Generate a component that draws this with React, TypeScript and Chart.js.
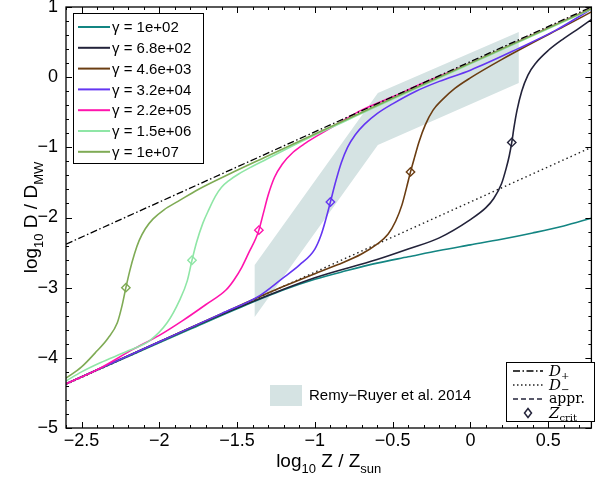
import React, { useEffect, useRef } from "react";
import { Chart, registerables } from "chart.js";
Chart.register(...registerables);

// ---- axes ----
const xMin = -2.6;
const xMax = 0.778;
const yMin = -5;
const yMax = 1;
const xTicks = [-2.5, -2, -1.5, -1, -0.5, 0, 0.5];
const yTicks = [-5, -4, -3, -2, -1, 0, 1];

// ---- series ----
const gammaLabels = ["γ = 1e+02", "γ = 6.8e+02", "γ = 4.6e+03", "γ = 3.2e+04", "γ = 2.2e+05", "γ = 1.5e+06", "γ = 1e+07"];
const colors = ["#138582", "#23233a", "#6b3d12", "#6436f2", "#ff14ad", "#8fe6a6", "#7fab55"];

const xG1 = [-2.6, -2.2, -1.8, -1.5, -1.2, -1.0, -0.8, -0.6, -0.4, -0.2, 0.0, 0.2, 0.4, 0.6, 0.778];
const yG1 = [-4.37, -3.98, -3.59, -3.30, -3.03, -2.88, -2.76, -2.65, -2.56, -2.47, -2.39, -2.31, -2.22, -2.12, -2.01];

const xG2 = [-2.6, -2.0, -1.5, -1.0, -0.6, -0.4, -0.2, 0.0, 0.1, 0.15, 0.2, 0.23, 0.25, 0.266, 0.28, 0.3, 0.33, 0.37, 0.42, 0.5, 0.6, 0.7, 0.778];
const yG2 = [-4.37, -3.77, -3.29, -2.86, -2.6, -2.45, -2.29, -2.03, -1.86, -1.73, -1.52, -1.3, -1.12, -0.93, -0.72, -0.47, -0.2, 0.03, 0.2, 0.38, 0.55, 0.7, 0.82];

const xG3 = [-2.6, -2.0, -1.5, -1.2, -1.0, -0.85, -0.7, -0.6, -0.53, -0.48, -0.44, -0.41, -0.385, -0.36, -0.33, -0.29, -0.24, -0.18, -0.1, 0.0, 0.2, 0.4, 0.6, 0.778];
const yG3 = [-4.37, -3.77, -3.27, -2.98, -2.8, -2.67, -2.52, -2.38, -2.24, -2.05, -1.82, -1.57, -1.35, -1.15, -0.92, -0.68, -0.47, -0.32, -0.16, -0.01, 0.25, 0.49, 0.72, 0.93];

const xG4 = [-2.6, -2.0, -1.6, -1.36, -1.21, -1.1, -1.0, -0.96, -0.93, -0.9, -0.87, -0.83, -0.79, -0.74, -0.68, -0.6, -0.5, -0.35, -0.2, 0.0, 0.3, 0.55, 0.778];
const yG4 = [-4.37, -3.77, -3.37, -3.12, -2.87, -2.68, -2.45, -2.25, -2.03, -1.78, -1.52, -1.22, -1.0, -0.82, -0.67, -0.52, -0.38, -0.2, -0.06, 0.1, 0.4, 0.67, 0.97];

const xG5 = [-2.6, -2.4, -2.17, -2.0, -1.85, -1.7, -1.57, -1.52, -1.47, -1.42, -1.38, -1.36, -1.33, -1.3, -1.26, -1.21, -1.14, -1.06, -0.95, -0.85, -0.7, -0.5, -0.3, 0.0, 0.4, 0.778];
const yG5 = [-4.37, -4.17, -3.88, -3.68, -3.47, -3.24, -3.03, -2.89, -2.71, -2.48, -2.3, -2.18, -1.93, -1.68, -1.43, -1.24, -1.07, -0.94, -0.79, -0.66, -0.47, -0.28, -0.08, 0.2, 0.6, 0.98];

const xG6 = [-2.6, -2.5, -2.38, -2.2, -2.06, -1.95, -1.87, -1.82, -1.79, -1.76, -1.72, -1.68, -1.64, -1.6, -1.55, -1.49, -1.4, -1.32, -1.1, -0.8, -0.4, 0.0, 0.4, 0.778];
const yG6 = [-4.33, -4.2, -4.07, -3.9, -3.75, -3.5, -3.18, -2.9, -2.61, -2.35, -2.08, -1.88, -1.7, -1.57, -1.47, -1.38, -1.27, -1.18, -0.93, -0.62, -0.21, 0.19, 0.59, 0.97];

const xG7 = [-2.6, -2.5, -2.4, -2.33, -2.27, -2.24, -2.215, -2.19, -2.16, -2.13, -2.09, -2.04, -1.97, -1.88, -1.75, -1.55, -1.3, -1.0, -0.5, 0.0, 0.4, 0.778];
const yG7 = [-4.29, -4.13, -3.9, -3.72, -3.5, -3.26, -3.0, -2.76, -2.52, -2.33, -2.16, -2.02, -1.89, -1.77, -1.6, -1.38, -1.12, -0.81, -0.3, 0.2, 0.6, 0.98];

const seriesX = [xG1, xG2, xG3, xG4, xG5, xG6, xG7];
const seriesY = [yG1, yG2, yG3, yG4, yG5, yG6, yG7];

// critical metallicities (γ = 6.8e+02 ... 1e+07)
const critX = [0.266, -0.385, -0.9, -1.36, -1.79, -2.215];
const critY = [-0.93, -1.35, -1.78, -2.18, -2.61, -3.0];

// limiting lines
const dLineX = [-2.6, 0.778];
const dPlusY = [-2.38, 1.0];
const dMinusY = [-4.38, -1.0];

// Remy-Ruyer et al. 2014 band (closed polygon)
const remyX = [-1.387, -0.595, 0.311, 0.311, -0.595, -1.387, -1.387];
const remyY = [-2.677, -0.226, 0.644, -0.083, -0.967, -3.418, -2.677];

const SANS = "'Liberation Sans', Arial, Helvetica, sans-serif";
const SERIF = "'DejaVu Serif', serif";

const zip = (xs: number[], ys: number[]) => xs.map((x, i) => ({ x, y: ys[i] }));
const fmt = (v: number) => String(v).replace("-", "\u2212");

type Part = { t: string; font: string; dy?: number };
function drawRich(ctx: CanvasRenderingContext2D, parts: Part[], x: number, y: number, align: "left" | "center") {
  const widths = parts.map((p) => {
    ctx.font = p.font;
    return ctx.measureText(p.t).width;
  });
  const total = widths.reduce((a, b) => a + b, 0);
  let cx = align === "center" ? x - total / 2 : x;
  ctx.textAlign = "left";
  parts.forEach((p, i) => {
    ctx.font = p.font;
    ctx.fillText(p.t, cx, y + (p.dy || 0));
    cx += widths[i];
  });
}

const framePlugin = {
  id: "frame",
  afterDatasetsDraw(chart: any) {
    const { ctx, chartArea: a, scales } = chart;
    const xs = scales.x;
    const ys = scales.y;
    ctx.save();
    ctx.strokeStyle = "#000";
    ctx.lineWidth = 1;
    ctx.setLineDash([]);
    ctx.beginPath();
    for (let i = -26; i <= 7; i++) {
      const px = Math.round(xs.getPixelForValue(i / 10)) + 0.5;
      const L = i % 5 === 0 ? 6 : 3;
      ctx.moveTo(px, a.bottom);
      ctx.lineTo(px, a.bottom - L);
      ctx.moveTo(px, a.top);
      ctx.lineTo(px, a.top + L);
    }
    for (let i = -25; i <= 5; i++) {
      const py = Math.round(ys.getPixelForValue(i / 5)) + 0.5;
      const L = i % 5 === 0 ? 6 : 3;
      ctx.moveTo(a.left, py);
      ctx.lineTo(a.left + L, py);
      ctx.moveTo(a.right, py);
      ctx.lineTo(a.right - L, py);
    }
    ctx.stroke();
    ctx.lineWidth = 1.3;
    ctx.strokeRect(a.left, a.top, a.right - a.left, a.bottom - a.top);
    ctx.restore();
  },
  afterDraw(chart: any) {
    const { ctx, chartArea: a } = chart;
    ctx.save();
    ctx.fillStyle = "#000";
    ctx.textBaseline = "alphabetic";
    // x title
    drawRich(
      ctx,
      [
        { t: "log", font: `19px ${SANS}` },
        { t: "10", font: `13px ${SANS}`, dy: 6 },
        { t: " Z / Z", font: `19px ${SANS}` },
        { t: "sun", font: `13px ${SANS}`, dy: 6 },
      ],
      (a.left + a.right) / 2,
      467,
      "center"
    );
    // y title
    ctx.save();
    ctx.translate(37, (a.top + a.bottom) / 2);
    ctx.rotate(-Math.PI / 2);
    drawRich(
      ctx,
      [
        { t: "log", font: `19px ${SANS}` },
        { t: "10", font: `13px ${SANS}`, dy: 6 },
        { t: " D / D", font: `19px ${SANS}` },
        { t: "MW", font: `13px ${SANS}`, dy: 6 },
      ],
      0,
      0,
      "center"
    );
    ctx.restore();

    // gamma legend
    ctx.fillStyle = "#fff";
    ctx.fillRect(73.5, 13.5, 130, 150);
    ctx.strokeStyle = "#000";
    ctx.lineWidth = 1;
    ctx.strokeRect(73.5, 13.5, 130, 150);
    ctx.textBaseline = "middle";
    ctx.font = `15px ${SANS}`;
    gammaLabels.forEach((lab, i) => {
      const y = 27 + i * 20.8;
      ctx.strokeStyle = colors[i];
      ctx.lineWidth = 2;
      ctx.beginPath();
      ctx.moveTo(78, y);
      ctx.lineTo(110, y);
      ctx.stroke();
      ctx.fillStyle = "#000";
      ctx.textAlign = "left";
      ctx.fillText(lab, 112, y + 1);
    });

    // Remy-Ruyer legend
    ctx.fillStyle = "#d5e3e3";
    ctx.fillRect(270, 385, 32, 21);
    ctx.fillStyle = "#000";
    ctx.font = `15px ${SANS}`;
    ctx.textAlign = "left";
    ctx.fillText("Remy\u2212Ruyer et al. 2014", 309, 396);

    // line-style legend
    ctx.fillStyle = "#fff";
    ctx.fillRect(506.5, 362.5, 88, 59);
    ctx.strokeStyle = "#000";
    ctx.lineWidth = 1;
    ctx.strokeRect(506.5, 362.5, 88, 59);
    const rows = [371, 385, 399, 413];
    const seg = (y: number, dash: number[], color: string, w: number) => {
      ctx.save();
      ctx.strokeStyle = color;
      ctx.lineWidth = w;
      ctx.setLineDash(dash);
      ctx.beginPath();
      ctx.moveTo(513, y);
      ctx.lineTo(543, y);
      ctx.stroke();
      ctx.restore();
    };
    seg(rows[0], [7, 2.5, 1.5, 2.5], "#000", 1.3);
    seg(rows[1], [1.5, 2.5], "#222", 1.4);
    seg(rows[2], [5, 3], "#23233a", 1.6);
    // diamond
    ctx.save();
    ctx.strokeStyle = "#23233a";
    ctx.lineWidth = 1.5;
    ctx.beginPath();
    ctx.moveTo(528, rows[3] - 4.5);
    ctx.lineTo(531.5, rows[3]);
    ctx.lineTo(528, rows[3] + 4.5);
    ctx.lineTo(524.5, rows[3]);
    ctx.closePath();
    ctx.stroke();
    ctx.restore();
    ctx.fillStyle = "#000";
    ctx.textBaseline = "alphabetic";
    drawRich(ctx, [{ t: "D", font: `italic 15px ${SERIF}` }, { t: "+", font: `10px ${SERIF}`, dy: 3 }], 549, rows[0] + 5, "left");
    drawRich(ctx, [{ t: "D", font: `italic 15px ${SERIF}` }, { t: "\u2212", font: `10px ${SERIF}`, dy: 3 }], 549, rows[1] + 5, "left");
    drawRich(ctx, [{ t: "appr.", font: `14px ${SERIF}` }], 549, rows[2] + 4, "left");
    drawRich(ctx, [{ t: "Z", font: `italic 15px ${SERIF}` }, { t: "crit", font: `10px ${SERIF}`, dy: 3 }], 549, rows[3] + 5, "left");
    ctx.restore();
  },
};

export default function App() {
  const ref = useRef<HTMLCanvasElement | null>(null);
  useEffect(() => {
    if (!ref.current) return;
    const curveSets = seriesX.map((xs, i) => ({
      label: gammaLabels[i],
      data: zip(xs, seriesY[i]),
      borderColor: colors[i],
      borderWidth: 1.6,
      pointRadius: 0,
      fill: false,
      cubicInterpolationMode: "monotone" as const,
      order: 10 + (6 - i),
    }));
    const chart = new Chart(ref.current, {
      type: "line",
      data: {
        datasets: [
          {
            label: "Z_crit",
            data: zip(critX, critY),
            showLine: false,
            pointStyle: "rectRot",
            pointRadius: 4.2,
            pointBorderWidth: 1.4,
            pointBorderColor: colors.slice(1),
            pointBackgroundColor: "rgba(0,0,0,0)",
            order: 0,
          },
          {
            label: "D+",
            data: zip(dLineX, dPlusY),
            borderColor: "#000",
            borderWidth: 1.3,
            borderDash: [7, 2.5, 1.5, 2.5],
            pointRadius: 0,
            fill: false,
            order: 1,
          },
          ...curveSets,
          {
            label: "D-",
            data: zip(dLineX, dMinusY),
            borderColor: "#222",
            borderWidth: 1.4,
            borderDash: [1.5, 3],
            pointRadius: 0,
            fill: false,
            order: 50,
          },
          {
            label: "Remy-Ruyer et al. 2014",
            data: zip(remyX, remyY),
            borderWidth: 0,
            borderColor: "rgba(0,0,0,0)",
            backgroundColor: "#d5e3e3",
            pointRadius: 0,
            fill: "shape",
            tension: 0,
            order: 100,
          },
        ] as any,
      },
      options: {
        responsive: false,
        animation: false,
        devicePixelRatio: 1,
        layout: { padding: { top: 7, right: 2, left: 0, bottom: 0 } },
        plugins: { legend: { display: false }, tooltip: { enabled: false } },
        scales: {
          x: {
            type: "linear",
            min: xMin,
            max: xMax,
            grid: { display: false, drawTicks: false },
            border: { display: false },
            afterBuildTicks: (s: any) => {
              s.ticks = xTicks.map((v) => ({ value: v }));
            },
            afterFit: (s: any) => {
              s.height = 50;
              s.paddingLeft = 0;
              s.paddingRight = 0;
            },
            ticks: {
              color: "#000",
              font: { family: SANS, size: 18 },
              padding: 2,
              maxRotation: 0,
              autoSkip: false,
              callback: (v: any) => fmt(Number(v)),
            },
          },
          y: {
            type: "linear",
            min: yMin,
            max: yMax,
            grid: { display: false, drawTicks: false },
            border: { display: false },
            afterBuildTicks: (s: any) => {
              s.ticks = yTicks.map((v) => ({ value: v }));
            },
            afterFit: (s: any) => {
              s.width = 66;
              s.paddingTop = 0;
              s.paddingBottom = 0;
            },
            ticks: {
              color: "#000",
              font: { family: SANS, size: 18 },
              padding: 8,
              autoSkip: false,
              callback: (v: any) => fmt(Number(v)),
            },
          },
        },
      } as any,
      plugins: [framePlugin],
    });
    return () => chart.destroy();
  }, []);
  return (
    <div style={{ position: "fixed", left: 0, top: 0, width: 597, height: 478, background: "#fff" }}>
      <canvas ref={ref} width={597} height={478} style={{ display: "block", width: 597, height: 478 }} />
    </div>
  );
}
